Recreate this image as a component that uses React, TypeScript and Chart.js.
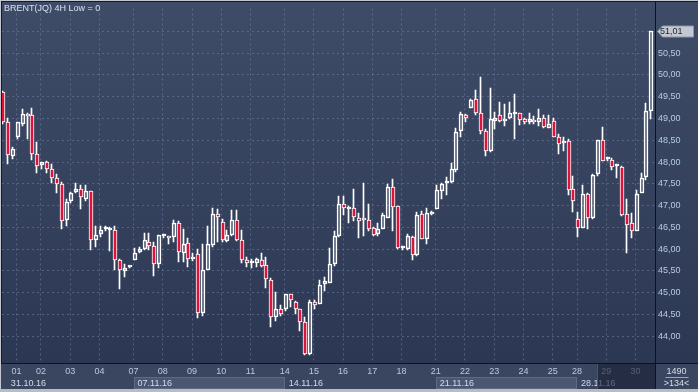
import React, { useEffect, useRef } from 'react';
import { Chart, registerables, BarElement } from 'chart.js';

Chart.register(...registerables);

// ---- data (4H candles, BRENT) ----
const openP = [
  49.62, 48.91, 48.13, 48.58, 48.88, 49.11, 49.07, 48.19, 47.93, 47.99,
  47.85, 47.63, 47.49, 46.67, 47.10, 47.31, 47.39, 47.16, 47.33, 46.20,
  46.35, 46.46, 46.44, 46.45, 45.75, 45.50, 45.58, 45.75, 45.93, 46.01,
  46.16, 46.07, 45.66, 46.31, 46.31, 46.27, 46.59, 45.91, 46.14, 45.77,
  45.88, 44.54, 45.52, 46.10, 46.81, 46.63, 46.18, 46.33, 46.67, 46.22,
  45.75, 45.69, 45.69, 45.75, 45.63, 45.30, 44.43, 44.62, 44.62, 44.96,
  44.79, 44.62, 44.33, 43.59, 44.78, 44.73, 45.20, 45.22, 45.66, 46.31,
  47.04, 46.91, 46.95, 46.72, 46.67, 46.66, 46.48, 46.35, 46.46, 46.72,
  47.42, 46.99, 46.02, 46.01, 46.27, 45.86, 46.81, 46.23, 46.81, 46.93,
  47.34, 47.51, 47.54, 47.81, 48.72, 49.09, 49.24, 49.45, 49.13, 48.72,
  48.26, 48.94, 49.09, 48.94, 49.02, 49.11, 49.12, 48.98, 48.93, 48.96,
  48.91, 49.02, 48.79, 48.94, 48.57, 48.44, 48.49, 47.38, 46.69, 46.48,
  47.26, 46.72, 47.72, 48.51, 48.06, 48.05, 47.90, 47.89, 46.80, 46.59,
  46.42, 47.30, 47.65, 49.17,
];
const highP = [
  49.64, 49.02, 48.34, 48.93, 49.22, 49.13, 49.24, 48.45, 48.00, 48.03,
  47.96, 47.72, 47.54, 47.14, 47.31, 47.51, 47.47, 47.47, 47.33, 46.52,
  46.52, 46.52, 46.51, 46.52, 45.78, 45.66, 45.60, 46.02, 46.05, 46.37,
  46.38, 46.16, 46.33, 46.34, 46.31, 46.67, 46.65, 46.46, 46.25, 45.92,
  46.01, 46.12, 46.54, 46.95, 46.91, 46.69, 46.45, 46.90, 46.90, 46.44,
  45.82, 45.78, 45.80, 45.90, 45.82, 45.33, 45.01, 44.72, 44.97, 44.97,
  44.81, 44.63, 44.43, 44.82, 44.82, 45.30, 45.37, 46.02, 46.41, 47.23,
  47.21, 46.99, 47.38, 46.84, 47.53, 47.04, 46.50, 46.61, 46.82, 47.50,
  47.60, 47.00, 46.07, 46.35, 46.29, 46.85, 46.87, 46.95, 46.87, 47.47,
  47.51, 47.66, 47.98, 48.78, 49.14, 49.11, 49.45, 49.66, 49.96, 48.75,
  49.69, 49.14, 49.39, 49.33, 49.37, 49.56, 49.13, 49.02, 49.13, 49.05,
  49.21, 49.09, 49.09, 49.02, 48.64, 48.57, 48.53, 47.68, 46.85, 47.47,
  47.29, 47.72, 48.51, 48.81, 48.12, 48.09, 47.95, 47.90, 47.14, 46.82,
  47.36, 47.74, 49.36, 51.01,
];
const lowP = [
  48.88, 47.96, 48.08, 48.53, 48.83, 48.53, 48.04, 47.74, 47.85, 47.74,
  47.51, 47.29, 46.46, 46.52, 47.06, 47.29, 46.93, 47.10, 45.99, 46.05,
  46.27, 46.41, 45.95, 45.52, 45.09, 45.35, 45.57, 45.75, 45.90, 45.99,
  45.97, 45.39, 45.56, 46.25, 46.12, 46.16, 45.71, 45.71, 45.58, 45.73,
  44.41, 44.47, 45.51, 46.05, 46.16, 46.16, 46.16, 46.31, 46.18, 45.69,
  45.60, 45.56, 45.60, 45.60, 45.11, 44.20, 44.35, 44.47, 44.58, 44.67,
  44.51, 44.13, 43.56, 43.56, 44.62, 44.73, 45.03, 45.22, 45.62, 46.27,
  46.78, 46.61, 46.65, 46.25, 46.31, 46.42, 46.31, 46.31, 46.46, 46.72,
  46.42, 46.01, 45.99, 45.99, 45.75, 45.84, 46.23, 46.12, 46.79, 46.93,
  47.15, 47.25, 47.51, 47.78, 48.58, 48.91, 49.23, 49.09, 48.64, 48.13,
  48.23, 48.75, 48.91, 48.83, 48.98, 48.53, 48.85, 48.87, 48.88, 48.87,
  48.83, 48.79, 48.78, 48.57, 48.19, 48.26, 47.25, 46.85, 46.27, 46.48,
  46.46, 46.69, 47.69, 48.03, 48.02, 47.81, 47.64, 46.76, 45.92, 46.25,
  46.41, 47.29, 47.59, 48.98,
];
const closeP = [
  48.91, 48.17, 48.30, 48.91, 49.11, 49.05, 48.19, 47.90, 47.99, 47.85,
  47.64, 47.49, 46.65, 47.08, 47.30, 47.38, 47.20, 47.33, 46.20, 46.33,
  46.45, 46.47, 46.45, 45.75, 45.52, 45.57, 45.59, 45.90, 46.01, 46.20,
  46.07, 45.66, 46.33, 46.32, 46.25, 46.59, 45.93, 46.11, 45.78, 45.82,
  44.54, 45.51, 46.12, 46.80, 46.74, 46.22, 46.33, 46.67, 46.22, 45.75,
  45.67, 45.70, 45.77, 45.62, 45.32, 44.43, 44.62, 44.52, 44.96, 44.82,
  44.62, 44.32, 43.59, 44.78, 44.71, 45.18, 45.26, 45.66, 46.29, 47.04,
  46.95, 46.96, 46.74, 46.65, 46.66, 46.46, 46.32, 46.46, 46.78, 47.42,
  46.96, 46.02, 46.03, 46.29, 45.87, 46.78, 46.23, 46.84, 46.85, 47.35,
  47.49, 47.52, 47.83, 48.70, 49.11, 49.02, 49.43, 49.13, 48.72, 48.25,
  48.98, 49.02, 48.94, 49.00, 49.12, 49.12, 48.96, 48.91, 48.98, 48.91,
  49.02, 48.81, 48.88, 48.58, 48.42, 48.48, 47.36, 47.10, 46.48, 47.26,
  46.71, 47.70, 48.51, 48.03, 48.07, 47.89, 47.91, 46.78, 46.55, 46.42,
  47.26, 47.63, 49.17, 51.01,
];

const dayNames = ['01', '02', '03', '04', '07', '08', '09', '10', '11', '14', '15',
  '16', '17', '18', '21', '22', '23', '24', '25', '28', '29', '30'];
const dayStartIdx = [3, 8, 14, 20, 27, 33, 39, 45, 51, 58, 64,
  70, 76, 82, 89, 95, 101, 107, 113, 118, 124, 130];
const weekNames = ['31.10.16', '07.11.16', '14.11.16', '21.11.16', '28.11.16'];
const weekStartIdx = [1, 27, 58, 89, 118];
const yTickValues = [44, 44.5, 45, 45.5, 46, 46.5, 47, 47.5, 48, 48.5, 49, 49.5, 50, 50.5, 51];
const yMin = 43.384;
const yMax = 51.529;
const lastPrice = 51.01;
const totalBarsText = '1490';
const visibleBarsText = '>134<';
const titleText = 'BRENT(JQ) 4H Low = 0';
const overlayStartIdx = 121.6;

// ---- styling ----
const FONT = "'Liberation Sans', Arial, sans-serif";
const RED = '#dc143c';
const GRID = 'rgba(118,136,170,0.5)';

// crisp pixel snapping for bar elements
if (!(BarElement as any).__crisp) {
  const orig = BarElement.prototype.draw;
  (BarElement.prototype as any).draw = function (this: any, ctx: CanvasRenderingContext2D) {
    const sx = this.x, sy = this.y, sb = this.base;
    const cx = Math.round(sx - 1.2);
    this.x = this.width < 2 ? cx - 0.5 : cx;
    this.y = Math.round(sy);
    this.base = Math.round(sb);
    orig.call(this, ctx);
    this.x = sx; this.y = sy; this.base = sb;
  };
  (BarElement as any).__crisp = true;
}

const fmt = (v: number) => v.toFixed(2).replace('.', ',');

const decor = {
  id: 'decor',
  beforeDraw(chart: any) {
    const { ctx, width, height, chartArea } = chart;
    ctx.save();
    const g = ctx.createLinearGradient(0, 0, 0, chartArea.bottom);
    g.addColorStop(0, '#3f4c68');
    g.addColorStop(1, '#2c3853');
    ctx.fillStyle = g;
    ctx.fillRect(0, 0, width, chartArea.bottom);
    ctx.fillStyle = '#3a4660';
    ctx.fillRect(0, chartArea.bottom, width, height - chartArea.bottom);
    ctx.restore();
  },
  afterDraw(chart: any) {
    const { ctx, width, height, chartArea, scales } = chart;
    const xs = scales.x;
    const ys = scales.y;
    const b = chartArea.bottom;
    const r = chartArea.right;
    const edge = (i: number) => xs.getPixelForValue(i - 0.5);
    ctx.save();

    // week boxes
    weekStartIdx.forEach((s, k) => {
      if (k % 2 === 1) {
        const x0 = Math.round(edge(s));
        const x1 = Math.round(k + 1 < weekStartIdx.length ? edge(weekStartIdx[k + 1]) : r);
        ctx.fillStyle = '#4b5772';
        ctx.fillRect(x0, b + 14, x1 - x0, 12);
        ctx.strokeStyle = '#5d6a85';
        ctx.lineWidth = 1;
        ctx.strokeRect(x0 + 0.5, b + 14.5, x1 - x0 - 1, 11);
      }
    });
    ctx.font = `9px ${FONT}`;
    ctx.textBaseline = 'middle';
    ctx.textAlign = 'left';
    ctx.fillStyle = '#d3dbe8';
    weekStartIdx.forEach((s, k) => {
      ctx.fillText(weekNames[k], Math.max(edge(s), chartArea.left) + 4, b + 20.5);
    });

    // dimmed region at the right end of the time axis
    const ox = Math.round(xs.getPixelForValue(overlayStartIdx));
    ctx.fillStyle = 'rgba(22,30,50,0.62)';
    ctx.fillRect(ox, b, r - ox, 26);
    ctx.fillStyle = '#4a5670';
    ctx.fillRect(ox, b, 1, 26);

    // axis lines
    ctx.fillStyle = '#0e121a';
    ctx.fillRect(0, b, width, 1);
    ctx.fillRect(r, 2, 1, b + 24);

    // last price tag
    const py = Math.round(ys.getPixelForValue(lastPrice)) + 0.5;
    ctx.beginPath();
    ctx.moveTo(r + 2.5, py);
    ctx.lineTo(r + 7.5, py - 5.5);
    ctx.lineTo(width - 4.5, py - 5.5);
    ctx.lineTo(width - 4.5, py + 5.5);
    ctx.lineTo(r + 7.5, py + 5.5);
    ctx.closePath();
    ctx.fillStyle = '#c3c8d1';
    ctx.fill();
    ctx.strokeStyle = '#8e97a7';
    ctx.lineWidth = 1;
    ctx.stroke();
    ctx.fillStyle = '#1d2331';
    ctx.textAlign = 'left';
    ctx.fillText(fmt(lastPrice), r + 5, py);

    // bar counters
    const cx = (r + width) / 2;
    ctx.textAlign = 'center';
    ctx.fillStyle = '#d6dde9';
    ctx.fillText(totalBarsText, cx, b + 8.7);
    ctx.fillStyle = '#9aa6bb';
    ctx.fillRect(cx - 11, b + 14, 23, 1);
    ctx.fillStyle = '#d6dde9';
    ctx.fillText(visibleBarsText, cx, b + 20.5);

    // title
    ctx.textAlign = 'left';
    ctx.fillStyle = '#d8e0ee';
    ctx.fillText(titleText, 4, 8.5);

    // frame
    ctx.fillStyle = '#c3c7cf';
    ctx.fillRect(0, 0, width, 1);
    ctx.fillRect(0, 0, 1, height);
    ctx.fillStyle = '#151a24';
    ctx.fillRect(1, 1, width - 1, 1);
    ctx.fillRect(1, 1, 1, b - 1);
    ctx.fillStyle = '#b7bcc5';
    ctx.fillRect(0, height - 3, width, 3);
    ctx.restore();
  },
};

export default function App() {
  const ref = useRef<HTMLCanvasElement>(null);

  useEffect(() => {
    const canvas = ref.current;
    if (!canvas) return;
    const labels = openP.map((_, i) => {
      const k = dayStartIdx.indexOf(i);
      return k >= 0 ? dayNames[k] : '';
    });
    const bodies = openP.map((o, i) => [o, closeP[i]]);
    const upper = openP.map((o, i) => [Math.max(o, closeP[i]), highP[i]]);
    const lower = openP.map((o, i) => [lowP[i], Math.min(o, closeP[i])]);
    const bodyFill = openP.map((o, i) => (closeP[i] < o ? RED : 'rgba(0,0,0,0)'));

    const chart = new Chart(canvas, {
      type: 'bar',
      data: {
        labels,
        datasets: [
          {
            data: bodies as any,
            backgroundColor: bodyFill,
            borderColor: '#ffffff',
            borderWidth: 1,
            borderSkipped: false,
            barThickness: 4,
            minBarLength: 2,
            grouped: false,
            order: 0,
          } as any,
          {
            data: upper as any,
            backgroundColor: '#ffffff',
            borderWidth: 0,
            barThickness: 1,
            grouped: false,
            order: 1,
          } as any,
          {
            data: lower as any,
            backgroundColor: '#ffffff',
            borderWidth: 0,
            barThickness: 1,
            grouped: false,
            order: 1,
          } as any,
        ],
      },
      options: {
        responsive: false,
        maintainAspectRatio: false,
        animation: false,
        devicePixelRatio: 1,
        events: [],
        layout: { padding: { left: 2, top: 2, right: 0, bottom: 0 } },
        plugins: { legend: { display: false }, tooltip: { enabled: false } },
        scales: {
          x: {
            type: 'category',
            offset: true,
            grid: {
              offset: true,
              drawTicks: false,
              lineWidth: 1,
              color: (c: any) => (c.tick && c.tick.label ? GRID : 'rgba(0,0,0,0)'),
            },
            border: { display: false, dash: [2, 3] },
            ticks: {
              autoSkip: false,
              maxRotation: 0,
              minRotation: 0,
              padding: 3,
              labelOffset: -2.44,
              color: '#b9c8df',
              font: { family: FONT, size: 9 },
            },
            afterFit: (s: any) => { s.height = 29; },
          },
          y: {
            type: 'linear',
            position: 'right',
            min: yMin,
            max: yMax,
            grid: { drawTicks: false, lineWidth: 1, color: GRID },
            border: { display: false, dash: [2, 3] },
            afterBuildTicks: (s: any) => { s.ticks = yTickValues.map((v) => ({ value: v })); },
            ticks: {
              padding: 3,
              color: '#b6cbe8',
              font: { family: FONT, size: 9 },
              callback: (v: any) => (Number(v) >= 51 ? '' : fmt(Number(v))),
            },
            afterFit: (s: any) => { s.width = 43; },
          },
        },
      } as any,
      plugins: [decor],
    });
    return () => chart.destroy();
  }, []);

  return (
    <div style={{ position: 'fixed', left: 0, top: 0, width: 698, height: 392 }}>
      <canvas ref={ref} width={698} height={392} style={{ display: 'block', width: 698, height: 392 }} />
    </div>
  );
}
